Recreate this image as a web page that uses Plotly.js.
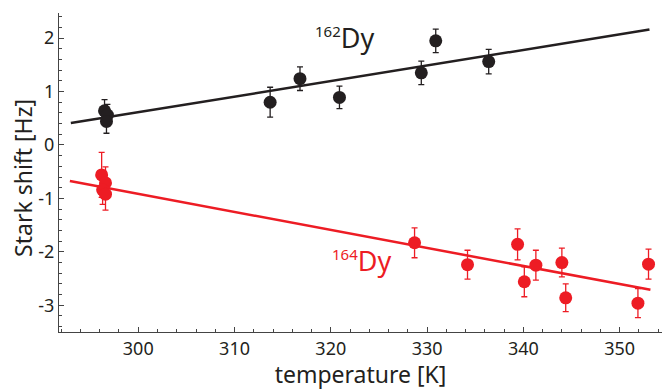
<!DOCTYPE html>
<html>
<head>
<meta charset="utf-8">
<script src="https://cdn.plot.ly/plotly-3.0.1.min.js"></script>
<style>html,body{margin:0;padding:0;background:#fff;}#chart{width:671px;height:390px;}</style>
</head>
<body>
<div id="chart"></div>
<script>
// 162Dy measurements
const T162 = [296.5, 296.8, 296.7, 313.7, 316.8, 320.9, 329.4, 330.9, 336.4];
const S162 = [0.64, 0.56, 0.44, 0.80, 1.24, 0.89, 1.35, 1.95, 1.56];
const E162 = [0.21, 0.20, 0.22, 0.28, 0.22, 0.21, 0.22, 0.22, 0.23];
// 164Dy measurements
const T164 = [296.2, 296.6, 296.3, 296.6, 328.7, 334.2, 339.4, 340.1, 341.3, 344.0, 344.4, 351.9, 353.0];
const S164 = [-0.56, -0.71, -0.84, -0.92, -1.83, -2.24, -1.86, -2.56, -2.25, -2.20, -2.86, -2.96, -2.23];
const E164 = [0.42, 0.30, 0.27, 0.30, 0.28, 0.27, 0.29, 0.28, 0.28, 0.27, 0.26, 0.27, 0.28];
// linear fits (end points)
const fitT162 = [293.0, 353.1];
const fitS162 = [0.41, 2.16];
const fitT164 = [292.9, 353.2];
const fitS164 = [-0.675, -2.71];
// tick labels
const xTickVals = [300, 310, 320, 330, 340, 350];
const xTickText = ['300', '310', '320', '330', '340', '350'];
const yTickVals = [-3, -2, -1, 0, 1, 2];
const yTickText = ['-3', '-2', '-1', '0', '1', '2'];
// labels
const mass162 = '162', mass164 = '164', element = 'Dy';
const xTitle = 'temperature [K]';
const yTitle = 'Stark shift [Hz]';

const BLACK = '#231F20', RED = '#ED1C24';
const FONT = 'Noto Sans, Open Sans, sans-serif';

function isoLabel(m) {
  return '<sup><span style="font-size:15px">' + m + '</span></sup>' + element;
}

const traces = [
  {x: fitT162, y: fitS162, mode: 'lines', line: {color: BLACK, width: 2.5}, hoverinfo: 'skip'},
  {x: fitT164, y: fitS164, mode: 'lines', line: {color: RED, width: 2.5}, hoverinfo: 'skip'},
  {x: T162, y: S162, mode: 'markers', marker: {color: BLACK, size: 13},
   error_y: {type: 'data', array: E162, visible: true, color: BLACK, thickness: 1.3, width: 3}},
  {x: T164, y: S164, mode: 'markers', marker: {color: RED, size: 13},
   error_y: {type: 'data', array: E164, visible: true, color: RED, thickness: 1.3, width: 3}}
];

const axisCommon = {
  showgrid: false, zeroline: false, showline: true, linecolor: '#444', linewidth: 1,
  ticks: 'inside', ticklen: 5, tickwidth: 1, tickcolor: '#444',
  tickfont: {family: FONT, size: 18, color: '#231F20'},
  tickmode: 'array', mirror: false
};

const layout = {
  width: 671, height: 390,
  margin: {l: 59, r: 9, t: 13, b: 58},
  paper_bgcolor: '#fff', plot_bgcolor: '#fff',
  showlegend: false,
  font: {family: FONT, color: '#231F20'},
  xaxis: Object.assign({}, axisCommon, {
    range: [291.77, 354.4], tickvals: xTickVals, ticktext: xTickText,
    minor: {tickmode: 'linear', tick0: 300, dtick: 2, ticks: 'inside', ticklen: 3, tickcolor: '#444'},
    title: {text: xTitle, font: {family: FONT, size: 23, color: '#231F20'}, standoff: 1}
  }),
  yaxis: Object.assign({}, axisCommon, {
    range: [-3.5, 2.47], tickvals: yTickVals, ticktext: yTickText,
    minor: {tickmode: 'linear', tick0: 0, dtick: 0.2, ticks: 'inside', ticklen: 3, tickcolor: '#444'}
  }),
  annotations: [
    {x: -0.0597, y: 0.483, xref: 'paper', yref: 'paper', text: yTitle, textangle: -90, showarrow: false,
     xanchor: 'center', yanchor: 'middle', font: {family: FONT, size: 23, color: '#231F20'}},
    {x: 318.2, y: 2.01, xref: 'x', yref: 'y', text: isoLabel(mass162), showarrow: false,
     xanchor: 'left', yanchor: 'middle', font: {family: FONT, size: 27, color: BLACK}},
    {x: 319.9, y: -2.17, xref: 'x', yref: 'y', text: isoLabel(mass164), showarrow: false,
     xanchor: 'left', yanchor: 'middle', font: {family: FONT, size: 27, color: RED}}
  ]
};

Plotly.newPlot('chart', traces, layout, {displayModeBar: false, staticPlot: true});
</script>
</body>
</html>
